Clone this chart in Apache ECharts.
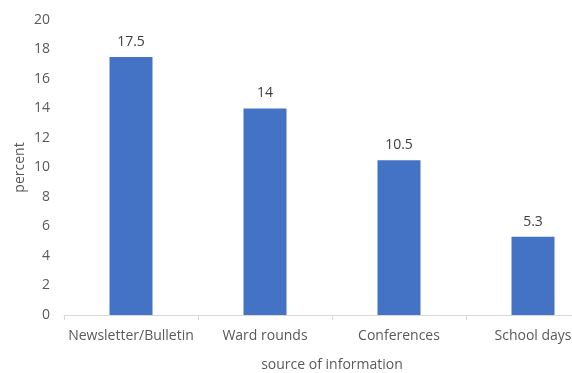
<!DOCTYPE html>
<html><head><meta charset="utf-8">
<script src="https://cdn.jsdelivr.net/npm/echarts@6/dist/echarts.min.js"></script>
<style>html,body{margin:0;padding:0;background:#fff}#c{width:572px;height:373px}</style>
</head><body><div id="c"></div>
<script>
const categories = ["Newsletter/Bulletin", "Ward rounds", "Conferences", "School days"];
const values = [17.5, 14, 10.5, 5.3];
const yTicks = [0, 2, 4, 6, 8, 10, 12, 14, 16, 18, 20];

const font = "'Open Sans', sans-serif";
const chart = echarts.init(document.getElementById('c'));
chart.setOption({
  animation: false,
  grid: { left: 64, top: 20, bottom: 58, right: -28, outerBoundsMode: 'none', containLabel: false },
  xAxis: {
    type: 'category', data: categories,
    name: 'source of information', nameLocation: 'middle', nameGap: 43, nameMoveOverlap: false,
    nameTextStyle: { color: '#595959', fontSize: 14, fontFamily: font },
    axisLine: { lineStyle: { color: '#d9d9d9' } },
    axisTick: { show: true, length: 5, alignWithLabel: false, lineStyle: { color: '#d9d9d9' } },
    axisLabel: { color: '#595959', fontSize: 14, fontFamily: font, margin: 14, interval: 0 }
  },
  yAxis: {
    type: 'value', min: yTicks[0], max: yTicks[yTicks.length - 1], interval: 2,
    name: 'percent', nameLocation: 'middle', nameGap: 44, nameMoveOverlap: false,
    nameTextStyle: { color: '#595959', fontSize: 14, fontFamily: font, verticalAlign: 'middle' },
    axisLine: { show: false }, axisTick: { show: false }, splitLine: { show: false },
    axisLabel: { color: '#595959', fontSize: 14, fontFamily: font, margin: 14 }
  },
  series: [{
    type: 'bar', data: values, barWidth: 43,
    itemStyle: { color: '#4472c4' },
    label: { show: true, position: 'top', distance: 8, color: '#404040', fontSize: 14, fontFamily: font }
  }]
});
</script></body></html>
